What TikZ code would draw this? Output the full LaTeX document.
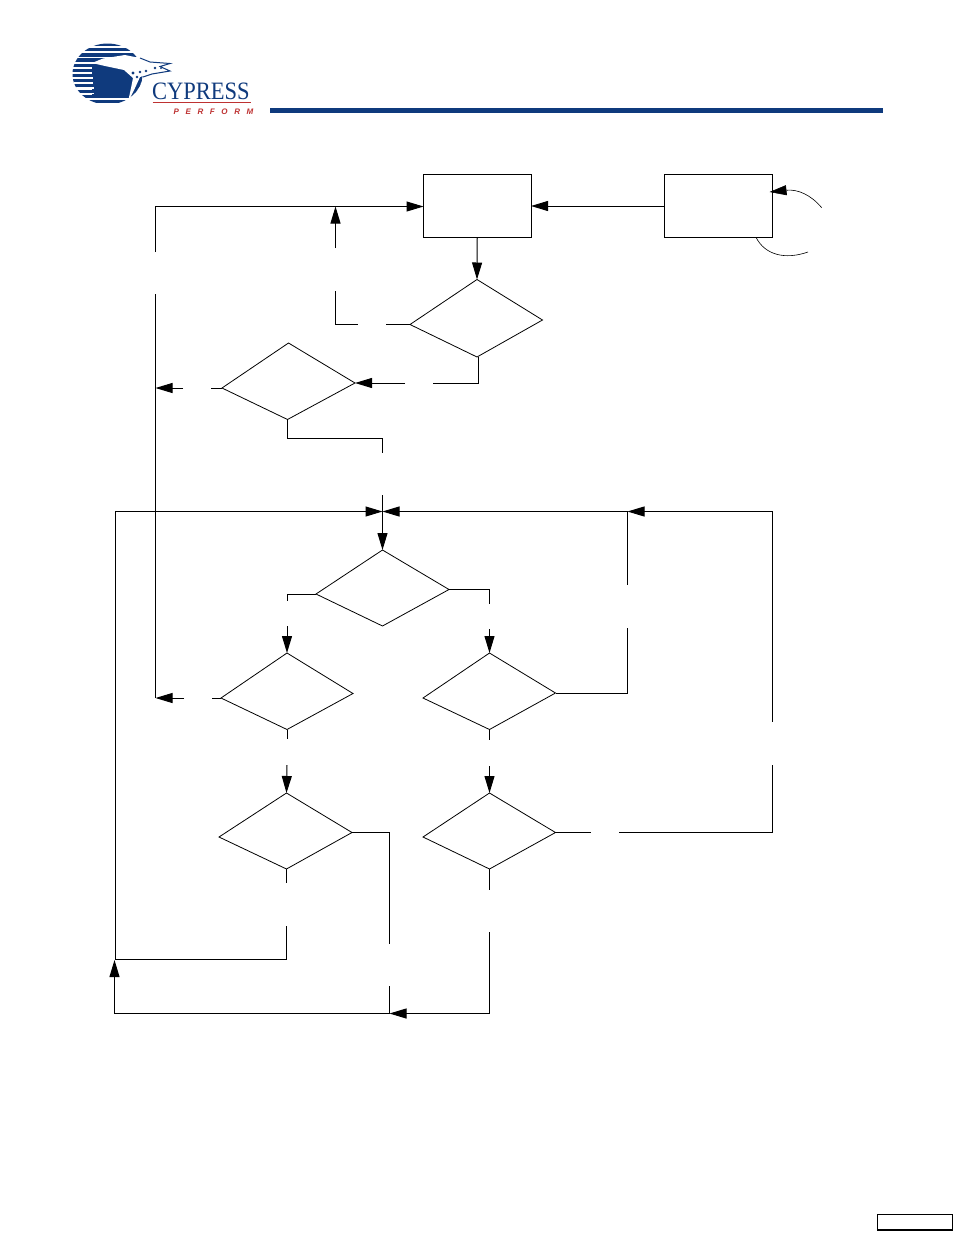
\documentclass[tikz,border=0pt]{standalone}
\usepackage{fontspec}
\setmainfont{Liberation Serif}
\newfontfamily\perf{Liberation Sans}
\usetikzlibrary{arrows.meta}
\definecolor{cyblue}{RGB}{15,58,125}
\definecolor{cyred}{RGB}{190,50,50}
\tikzset{
  x=1pt,y=-1pt,
  box/.style={draw=black,line width=1pt,inner sep=0pt,outer sep=0pt},
  dia/.style={draw=black,line width=0.8pt,line join=miter},
  link/.style={draw=black,line width=1pt},
  arr/.style={link,-{Triangle[length=17pt,width=10pt]},shorten >=0pt},
  arrs/.style={draw=black,line width=0.6pt,-{Triangle[length=17pt,width=10pt]}},
}
\newcommand{\diam}[9]{%
  \coordinate (#1t) at (#2,#3);\coordinate (#1r) at (#4,#5);
  \coordinate (#1b) at (#6,#7);\coordinate (#1l) at (#8,#9);
  \draw[dia] (#1t) -- (#1r) -- (#1b) -- (#1l) -- cycle;}
\newcommand{\pts}[3]{\coordinate (#1) at (#2,#3);}
\begin{document}
\begin{tikzpicture}
\useasboundingbox (0,0) rectangle (954,1235);
\fill[white] (0,0) rectangle (954,1235);
% logo
\begin{scope}
  \clip (107.5,74) ellipse [x radius=35, y radius=30.5];
  \foreach \yy in {44.5,49.7,54.9,60.1,65.3,70.5,75.7,80.9,86.1,91.3,96.5,101.7}
    \fill[cyblue] (70,\yy-1.7) rectangle (145,\yy+1.7);
  \fill[cyblue] (92,66) rectangle (145,95);
  \foreach \yy in {70.5,75.7,80.9,86.1,91.3}
    \fill[white] (70,\yy+1.3) rectangle (92+\yy*0.1-7,\yy+3);
\end{scope}
\fill[white] (92,63) -- (103,58.5) -- (125,55) -- (140,58) -- (150,62) -- (170,63) -- (160,66) -- (172,72) -- (150,74) -- (140,77) -- (135,88) -- (128,102) -- (131,88) -- (133,78) -- (124,70) -- (105,66) -- cycle;
\draw[cyblue,line width=1pt] (140,58) -- (150,62) -- (170,63.5) -- (160,66.5) -- (170,71) -- (152,74) -- (143,77);
\fill[cyblue] (133,73) circle (1.6) (140,72) circle (1.4) (146,71) circle (1.3) (155,68) circle (1.3) (161,68) circle (1) (137,77) circle (1.3);
\node[inner sep=0pt,text=cyblue,font=\fontsize{25}{25}\selectfont,xscale=0.9,anchor=base west] (logotext) at (152,99.5) {CYPRESS};
\draw[cyred,line width=0.5pt] (152.5,102.7) -- (251,102.7);
\node[inner sep=0pt,text=cyred,font=\perf\bfseries\itshape\fontsize{8}{8}\selectfont,anchor=base west] (logosub) at (173.5,114.5) {P\hspace{6.6pt}E\hspace{6.6pt}R\hspace{6.6pt}F\hspace{6.6pt}O\hspace{6.6pt}R\hspace{6.6pt}M};
% header bar and footer box
\fill[cyblue] (270,108) rectangle (883,113);
\node[box,line width=1.3pt,minimum width=75pt,minimum height=15.5pt] (foot) at (915,1222.3) {};
% boxes
\node[box,minimum width=107.5pt,minimum height=63pt] (b1) at (477.25,206) {};
\node[box,minimum width=108pt,minimum height=63pt] (b2) at (718.5,206) {};
% diamonds
\diam{a}{477}{279.5}{542.5}{320}{477}{357}{410}{324.5}
\diam{c}{288.5}{343}{355}{383}{287.5}{419.5}{222}{388}
\diam{d}{382.5}{550}{449}{589.5}{382.5}{626}{316}{594}
\diam{e}{287}{653}{353}{693.5}{287}{729.5}{221}{698}
\diam{f}{489.5}{653}{555.5}{693}{489.5}{729.5}{423}{698}
\diam{g}{286.5}{793}{352}{832.5}{286.5}{869}{219}{837}
\diam{h}{489.5}{793}{555.5}{832.5}{489.5}{869}{423}{837}
% junctions and free ends
\pts{k1}{155.5}{206.5}\pts{k2}{155.5}{252}\pts{k3}{155.5}{294}\pts{k4}{155.5}{698}
\pts{k5}{335.5}{248}\pts{k6}{335.5}{206.5}\pts{k7}{335.5}{291}\pts{k8}{335.5}{324.5}
\pts{k9}{358}{324.5}\pts{k10}{386}{324.5}
\pts{m1}{478.5}{383}\pts{m2}{433}{383}\pts{m3}{405}{383}
\pts{m4}{211}{388}\pts{m5}{183}{388}\pts{m6}{155.5}{388}
\pts{m7}{212}{698}\pts{m8}{184}{698}
\pts{n1}{287.5}{438.5}\pts{n2}{382.5}{438.5}\pts{n3}{382.5}{452.5}\pts{n4}{382.5}{495}
\pts{n5}{382.5}{511.5}\pts{n6}{115.5}{511.5}\pts{n7}{115.5}{959.5}\pts{n8}{286.5}{959.5}\pts{n9}{286.5}{926}
\pts{n10}{286.5}{883}
\pts{p1}{627.5}{511.5}\pts{p2}{772.5}{511.5}\pts{p3}{627.5}{585}\pts{p4}{627.5}{628}\pts{p5}{627.5}{693}
\pts{p6}{772.5}{722}\pts{p7}{772.5}{765}\pts{p8}{772.5}{832.5}\pts{p9}{619}{832.5}\pts{p10}{591}{832.5}
\pts{q1}{287}{594}\pts{q2}{287}{600.5}\pts{q3}{287}{626}
\pts{q4}{489.5}{589.5}\pts{q5}{489.5}{604}\pts{q6}{489.5}{629}
\pts{q7}{287}{738.5}\pts{q8}{287}{765}\pts{q9}{489.5}{740}\pts{q10}{489.5}{766}
\pts{r1}{389.5}{832.5}\pts{r2}{389.5}{943.5}\pts{r3}{389.5}{986}\pts{r4}{389.5}{1013.5}
\pts{r5}{489.5}{890}\pts{r6}{489.5}{932}\pts{r7}{489.5}{1013.5}\pts{r8}{114.5}{1013.5}\pts{r9}{114.5}{960}
\pts{s1}{821.7}{207.7}\pts{s2}{769.5}{192}\pts{s3}{756}{237.3}\pts{s4}{808}{252}
% connectors
\draw[arr] (b2.west) -- (b1.east |- b2.west);
\draw[arr] (b1.south) -- (at);
\draw[arr] (k2) -- (k1) -- (b1.west |- k1);
\draw[link] (k3) -- (k4);
\draw[arr] (k5) -- (k6);
\draw[link] (k7) -- (k8) -- (k9);
\draw[link] (k10) -- (al);
\draw[link] (ab -| m1) -- (m1) -- (m2);
\draw[arr] (m3) -- (cr);
\draw[link] (cl) -- (m4);
\draw[arr] (m5) -- (m6);
\draw[link] (el) -- (m7);
\draw[arr] (m8) -- (k4);
\draw[link] (cb) -- (n1) -- (n2) -- (n3);
\draw[arr] (n4) -- (dt);
\draw[arr] (n9) -- (n8) -- (n7) -- (n6) -- (n5);
\draw[link] (gb) -- (n10);
\draw[arr] (p1) -- (n5);
\draw[arr] (p2) -- (p1);
\draw[link] (p1) -- (p3);
\draw[link] (p4) -- (p5) -- (fr);
\draw[link] (p2) -- (p6);
\draw[link] (p7) -- (p8) -- (p9);
\draw[link] (hr) -- (p10);
\draw[link] (dl) -- (q1) -- (q2);
\draw[arr] (q3) -- (et);
\draw[link] (dr) -- (q4) -- (q5);
\draw[arr] (q6) -- (ft);
\draw[link] (eb) -- (q7);
\draw[arr] (q8) -- (gt);
\draw[link] (fb) -- (q9);
\draw[arr] (q10) -- (ht);
\draw[link] (gr) -- (r1) -- (r2);
\draw[link] (r3) -- (r4);
\draw[link] (hb) -- (r5);
\draw[arr] (r6) -- (r7) -- (r4);
\draw[arr] (r4) -- (r8) -- (r9);
\draw[arrs] (s1) .. controls (811,195) and (798,189) .. (s2);
\draw[draw=black,line width=0.6pt] (s3) .. controls (765,255) and (785,260) .. (s4);
\end{tikzpicture}
\end{document}
